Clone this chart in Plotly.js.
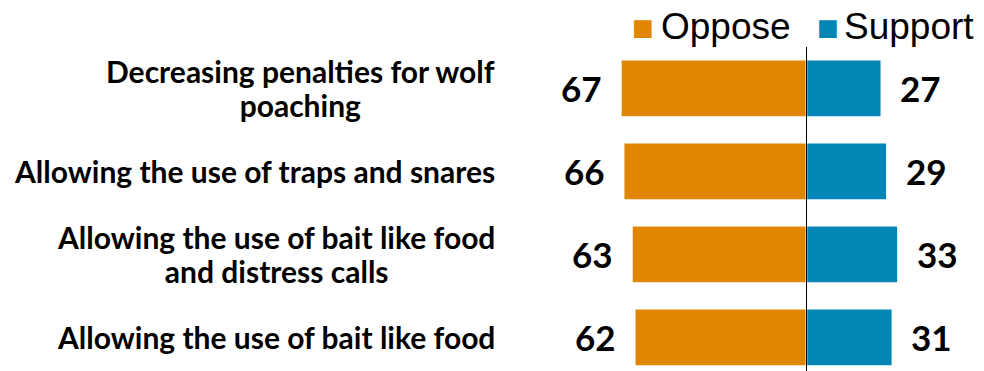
<!DOCTYPE html>
<html><head><meta charset="utf-8">
<script src="https://cdn.plot.ly/plotly-3.0.1.min.js"></script>
<style>html,body{margin:0;padding:0;background:#fff;}#chart{width:984px;height:371px;}</style>
</head><body><div id="chart"></div>
<script>
const categories = [
  "Decreasing penalties for wolf<br>poaching",
  "Allowing the use of traps and snares",
  "Allowing the use of bait like food<br>and distress calls",
  "Allowing the use of bait like food"
];
const oppose = [67, 66, 63, 62];
const support = [27, 29, 33, 31];
const seriesNames = ["Oppose", "Support"];
const colors = ["#E08600", "#0386B6"];

const ids = categories.map((c, i) => "c" + i);
const scale = 2.77;
const zeroPx = 806.5;
const W = 984, H = 371;

const traces = [
  {type: "bar", orientation: "h", name: seriesNames[0], y: ids, x: oppose.map(v => -v), showlegend: false,
   marker: {color: colors[0], line: {color: "#ffffff", width: 1.5}}, hoverinfo: "skip"},
  {type: "bar", orientation: "h", name: seriesNames[1], y: ids, x: support, showlegend: false,
   marker: {color: colors[1], line: {color: "#ffffff", width: 1.5}}, hoverinfo: "skip"}
];

const annotations = [];
categories.forEach((c, i) => {
  annotations.push({xref: "paper", yref: "y", x: 497/W, y: ids[i], xanchor: "right", yanchor: "middle",
    align: "center", text: "<b><span style='font-size:30px'>" + c.split("<br>").join("</span><br><span style='font-size:30px'>") + "</span></b>",
    showarrow: false,
    font: {family: "Lato, 'Open Sans', sans-serif", size: 26, color: "#000"}});
  annotations.push({xref: "x", yref: "y", x: -oppose[i], y: ids[i], xanchor: "right", yanchor: "middle",
    xshift: -17, text: "<b>" + oppose[i] + "</b>", showarrow: false,
    font: {family: "Lato, sans-serif", size: 35, color: "#000"}});
  annotations.push({xref: "x", yref: "y", x: support[i], y: ids[i], xanchor: "left", yanchor: "middle",
    xshift: 17, text: "<b>" + support[i] + "</b>", showarrow: false,
    font: {family: "Lato, sans-serif", size: 35, color: "#000"}});
});

// legend drawn as text: swatch glyph + series name
const legendX = [643, 828];      // swatch centres (px)
const legendTextX = [659, 842];  // text left edges (px)
seriesNames.forEach((n, i) => {
  annotations.push({xref: "paper", yref: "paper", x: legendX[i]/W, y: (H-27)/H, xanchor: "center", yanchor: "middle",
    text: "■", showarrow: false, font: {family: "'DejaVu Sans', sans-serif", size: 23, color: colors[i]}});
  annotations.push({xref: "paper", yref: "paper", x: legendTextX[i]/W, y: (H-26)/H, xanchor: "left", yanchor: "middle",
    text: n, showarrow: false, font: {family: "'Liberation Sans', Arial, sans-serif", size: 37, color: "#000"}});
});

const layout = {
  width: W, height: H,
  margin: {l: 0, r: 0, t: 0, b: 0, pad: 0},
  paper_bgcolor: "#fff", plot_bgcolor: "#fff",
  barmode: "relative", bargap: 0.31,
  showlegend: false,
  xaxis: {range: [-zeroPx/scale, (W-zeroPx)/scale], showgrid: false, showticklabels: false, ticks: "",
    zeroline: false, fixedrange: true},
  yaxis: {type: "category", range: [3.404, -1.066], showgrid: false, showticklabels: false, ticks: "",
    zeroline: false, fixedrange: true},
  shapes: [{type: "line", xref: "x", yref: "paper", x0: 0, x1: 0, y0: 0, y1: (H-47)/H,
    line: {color: "#000", width: 1}, layer: "above"}],
  annotations: annotations
};

Plotly.newPlot("chart", traces, layout, {displayModeBar: false, staticPlot: true});
</script>
</body></html>
